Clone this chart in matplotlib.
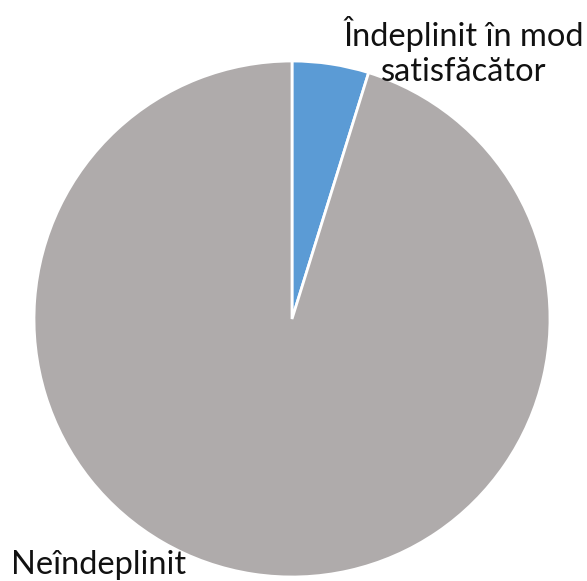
import matplotlib.pyplot as plt

labels = ['Îndeplinit în mod\nsatisfăcător', 'Neîndeplinit']
values = [4.8, 95.2]
colors = ['#5B9BD5', '#AFABAB']

fig = plt.figure(figsize=(5.87, 5.81), dpi=100)
ax = fig.add_axes([0, 0, 1, 1])

ax.pie(values, colors=colors, startangle=90, counterclock=False, radius=1.0,
       wedgeprops=dict(edgecolor='white', linewidth=2))

# pixel-based limits: center at (292, 319), radius 258 px
cx, cy, r = 292, 319, 258
ax.set_xlim(-cx / r, (587 - cx) / r)
ax.set_ylim(-(581 - cy) / r, cy / r)
ax.set_aspect('auto')
ax.axis('off')

ax.text((464 - cx) / r, (cy - 81) / r, labels[0], ha='center', va='baseline',
        fontsize=23.5, family='Lato', color='#111111', linespacing=1.22)
ax.text((11 - cx) / r, (cy - 574) / r, labels[1], ha='left', va='baseline',
        fontsize=23.5, family='Lato', color='#111111')

fig.savefig('out.png', dpi=100)
